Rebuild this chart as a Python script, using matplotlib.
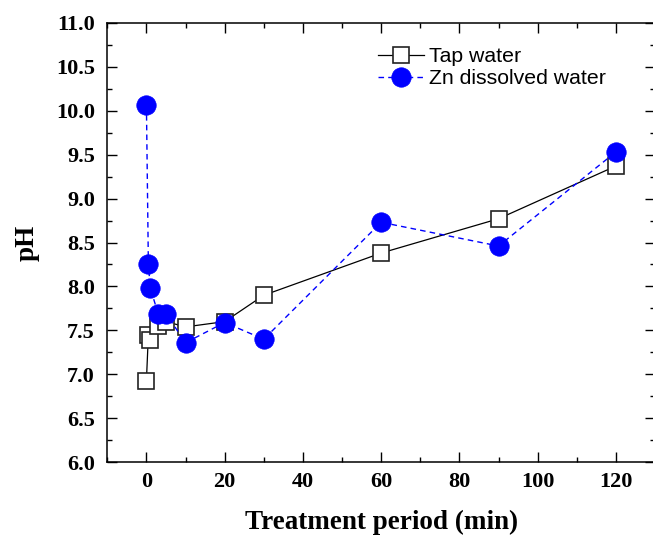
import matplotlib
matplotlib.use("Agg")
import matplotlib.pyplot as plt
from matplotlib.ticker import MultipleLocator

time_tap = [0, 0.5, 1, 3, 5, 10, 20, 30, 60, 90, 120]
ph_tap = [6.93, 7.45, 7.39, 7.55, 7.60, 7.54, 7.60, 7.90, 8.38, 8.77, 9.37]
time_zn = [0, 0.5, 1, 3, 5, 10, 20, 30, 60, 90, 120]
ph_zn = [10.06, 8.25, 7.98, 7.69, 7.69, 7.36, 7.59, 7.40, 8.73, 8.46, 9.53]
labels = ["Tap water", "Zn dissolved water"]
xlabel = "Treatment period (min)"
ylabel = "pH"

fig = plt.figure(figsize=(6.53, 5.38), dpi=100)
ax = fig.add_axes([107.3/653, (538-462.3)/538, (655-107.3)/653, (462.3-22.7)/538])

ax.plot(time_tap, ph_tap, color="black", lw=0.9, marker="s", ms=12,
        mfc="white", mec="#222222", mew=1.2, label=labels[0], zorder=3)
ax.plot(time_zn, ph_zn, color="blue", lw=1.0, dashes=(4, 3), marker="o", ms=14,
        mfc="blue", mec="blue", mew=0.5, label=labels[1], zorder=4)

ax.set_xlim(-10, 130)
ax.set_ylim(6.0, 11.0)
ax.xaxis.set_major_locator(MultipleLocator(20))
ax.xaxis.set_minor_locator(MultipleLocator(10))
ax.yaxis.set_major_locator(MultipleLocator(0.5))
ax.yaxis.set_minor_locator(MultipleLocator(0.25))
ax.yaxis.set_major_formatter(matplotlib.ticker.FormatStrFormatter("%.1f"))

ax.tick_params(which="both", direction="in", top=True, right=True, width=1.0)
ax.tick_params(which="major", length=7)
ax.tick_params(which="minor", length=3.5)
ax.tick_params(axis="x", pad=7)
ax.tick_params(axis="y", pad=9)
for sp in ax.spines.values():
    sp.set_linewidth(1.1)

for lab in ax.get_xticklabels() + ax.get_yticklabels():
    lab.set_fontfamily("Liberation Serif")
    lab.set_fontweight("bold")
    lab.set_fontsize(16)

ax.set_xlabel(xlabel, fontfamily="Liberation Serif", fontweight="bold", fontsize=19.5, labelpad=13)
ax.set_ylabel(ylabel, fontfamily="Liberation Serif", fontweight="bold", fontsize=19.5, labelpad=12)

leg = ax.legend(loc="upper left", bbox_to_anchor=(0.474, 0.968), frameon=False,
                prop={"family": "Liberation Sans", "size": 15.3}, handlelength=2.2,
                handletextpad=0.2, labelspacing=0.12, borderpad=0)

fig.savefig("out.png", dpi=100)
